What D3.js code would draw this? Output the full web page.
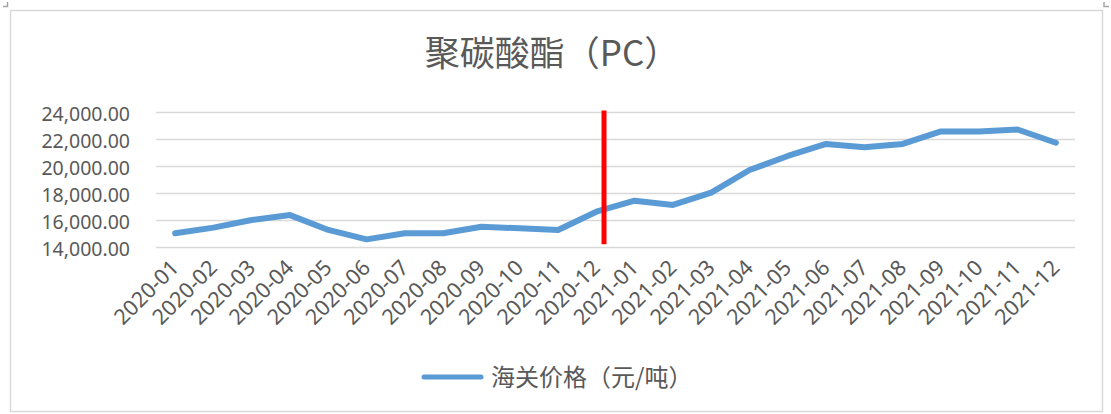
<!DOCTYPE html>
<html>
    <head>
        <meta charset="utf-8">
        <title>聚碳酸酯（PC）</title>
        <script type="text/javascript" src="https://d3js.org/d3.v7.min.js"></script>
        <style>
            body { margin: 0; background: #fff; }
            text { font-family: "Noto Sans CJK SC", "Noto Sans", sans-serif; fill: #595959; }
            .tick text { font-family: "Noto Sans", sans-serif; }
        </style>
    </head>
    <body>
        <script type="text/javascript">
            // data
            var months = ["2020-01", "2020-02", "2020-03", "2020-04", "2020-05", "2020-06",
                          "2020-07", "2020-08", "2020-09", "2020-10", "2020-11", "2020-12",
                          "2021-01", "2021-02", "2021-03", "2021-04", "2021-05", "2021-06",
                          "2021-07", "2021-08", "2021-09", "2021-10", "2021-11", "2021-12"];
            var prices = [15050, 15470, 16040, 16400, 15300, 14600,
                          15050, 15050, 15540, 15420, 15300, 16650,
                          17470, 17150, 18060, 19740, 20780, 21670,
                          21420, 21670, 22600, 22600, 22740, 21760];
            var yTicks = [14000, 16000, 18000, 20000, 22000, 24000];
            // red marker, in category-index units and price units
            var markerAt = [11.2];
            var markerRange = [14250, 24150];

            var seriesName = "海关价格（元/吨）";
            var title = "聚碳酸酯（PC）";

            var w = 1111;
            var h = 414;
            var plotLeft = 156, plotRight = 1075, plotTop = 112.5, plotBottom = 247.5;

            var svg = d3.select("body").append("svg")
                        .attr("width", w)
                        .attr("height", h);

            // chart border
            svg.append("rect")
               .attr("x", 10.5).attr("y", 10.5)
               .attr("width", 1092).attr("height", 401)
               .style("fill", "none")
               .style("stroke", "#d9d9d9")
               .style("stroke-width", "1.5px");

            // little corner marks
            svg.append("path")
               .attr("d", "M3,6.5H7.5V2 M1104,2V6.5H1109")
               .style("fill", "none").style("stroke", "#a6a6a6").style("stroke-width", "1.5px");

            var x = d3.scaleLinear().domain([-0.5, months.length - 0.5]).range([plotLeft, plotRight]);
            var y = d3.scaleLinear().domain([14000, 24000]).range([plotBottom, plotTop]);

            // gridlines
            svg.append("g").selectAll("line")
               .data(yTicks)
               .enter()
               .append("line")
               .attr("x1", plotLeft).attr("x2", plotRight)
               .attr("y1", function(d) { return y(d); })
               .attr("y2", function(d) { return y(d); })
               .style("stroke", "#d9d9d9")
               .style("stroke-width", "1.5px");

            // y axis labels
            var yAxis = svg.append("g")
                           .attr("transform", "translate(" + plotLeft + ",0)")
                           .call(d3.axisLeft(y).tickValues(yTicks).tickSize(0).tickPadding(26)
                                   .tickFormat(d3.format(",.2f")));
            yAxis.select(".domain").remove();
            yAxis.selectAll("text")
                 .attr("dy", "0.42em")
                 .style("font-size", "19.5px")
                 .style("fill", "#595959");

            // x axis labels
            var xAxis = svg.append("g")
                           .attr("transform", "translate(0," + plotBottom + ")")
                           .call(d3.axisBottom(x).tickValues(d3.range(months.length)).tickSize(0)
                                   .tickFormat(function(i) { return months[i]; }));
            xAxis.select(".domain").remove();
            xAxis.selectAll("text")
                 .attr("y", 0).attr("dy", 0)
                 .attr("transform", "translate(4.5,21.5) rotate(-45)")
                 .style("text-anchor", "end")
                 .style("font-size", "21.5px")
                 .style("fill", "#595959");

            // price line
            var line = d3.line()
                         .x(function(d, i) { return x(i); })
                         .y(function(d) { return y(d); });
            svg.append("path")
               .datum(prices)
               .attr("d", line)
               .style("fill", "none")
               .style("stroke", "#5b9bd5")
               .style("stroke-width", "6px")
               .style("stroke-linejoin", "round")
               .style("stroke-linecap", "round");

            // red marker
            svg.append("g").selectAll("line")
               .data(markerAt)
               .enter()
               .append("line")
               .attr("x1", function(d) { return x(d); })
               .attr("x2", function(d) { return x(d); })
               .attr("y1", y(markerRange[0]))
               .attr("y2", y(markerRange[1]))
               .style("stroke", "#ff0000")
               .style("stroke-width", "5px");

            // title
            svg.append("text")
               .attr("x", 552).attr("y", 54)
               .attr("dy", "0.35em")
               .style("text-anchor", "middle")
               .style("font-size", "35px")
               .text(title);

            // legend
            var legend = svg.append("g").attr("transform", "translate(424,377)");
            legend.append("line")
                  .attr("x1", 0).attr("x2", 57)
                  .style("stroke", "#5b9bd5")
                  .style("stroke-width", "5px")
                  .style("stroke-linecap", "round");
            legend.append("text")
                  .attr("x", 67).attr("dy", "0.36em")
                  .style("font-size", "24px")
                  .text(seriesName);
        </script>
    </body>
</html>
